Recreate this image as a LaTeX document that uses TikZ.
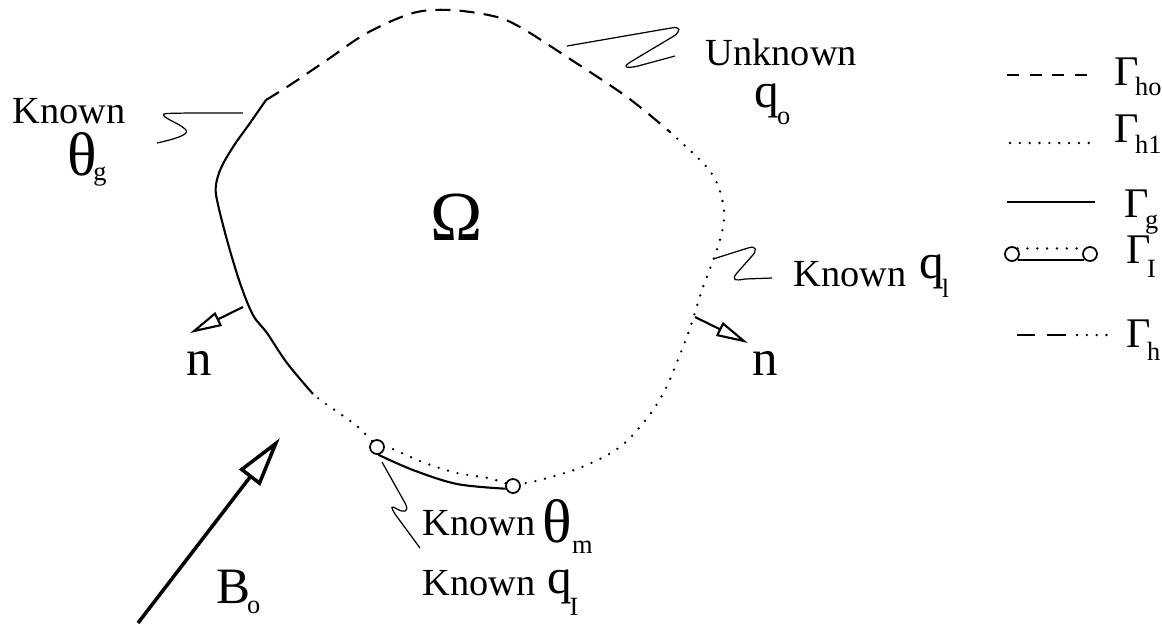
\documentclass[tikz,border=0pt]{standalone}
\usepackage{fontspec}
\setmainfont{Liberation Serif}
\usetikzlibrary{arrows.meta,positioning}

\newcommand{\symtext}[2]{{\fontsize{#1}{#1}\selectfont #2}}
\newcommand{\subsc}[3][0pt]{\kern#1\raisebox{-#2}{\fontsize{7.5}{7.5}\selectfont #3}}

\begin{document}
\begin{tikzpicture}[
    x=0.01cm, y=-0.01cm,
    gline/.style={line width=0.6pt},
    holine/.style={line width=0.6pt, dash pattern=on 4.3pt off 2.6pt},
    dotline/.style={line width=0.75pt, line cap=round, dash pattern=on 0pt off 2.8pt},
    legdash/.style={line width=0.6pt, dash pattern=on 3.4pt off 3.05pt},
    legdash long/.style={line width=0.6pt, dash pattern=on 5.2pt off 3.4pt},
    endpt/.style={circle, draw, line width=0.5pt, minimum size=1.4mm, inner sep=0pt},
    leader/.style={line width=0.35pt},
    normal/.style={-{Triangle[open,length=3.2mm,width=1.5mm]}, line width=0.6pt},
    field/.style={-{Triangle[open,length=5mm,width=2.6mm]}, line width=1pt},
    txt/.style={inner sep=0pt, anchor=base west, font=\fontsize{10.9}{12}\selectfont},
    sym/.style={inner sep=0pt, anchor=base west}
]
\useasboundingbox (0,0) rectangle (1162,623);

% boundary pieces
\coordinate (J1) at (266,100);
\coordinate (J2) at (670,132);
\coordinate (J3) at (313,394);
\node[endpt] (iL) at (377,447) {};
\node[endpt] (iR) at (513,486) {};

\draw[holine] plot[smooth, tension=0.55] coordinates {(J1) (290,85) (327,60) (367,33) (413,13) (450,10) (493,16) (520,27) (567,57) (627,97) (J2)};
\draw[dotline] plot[smooth, tension=0.55] coordinates {(J2) (703,163) (717,183) (724,210) (722,232) (714,258) (702,290) (690,328) (677,362) (665,390) (648,417) (620,447) (582,467) (540,480) (iR.15)};
\draw[dotline] plot[smooth, tension=0.55] coordinates {(iR.160) (488,478) (457,473) (425,463) (395,450) (iL.10)};
\draw[gline] plot[smooth, tension=0.55] coordinates {(iL.-80) (413,470) (457,484) (iR.200)};
\draw[dotline] plot[smooth, tension=0.55] coordinates {(iL.130) (358,427) (342,415) (323,402) (J3)};
\draw[gline] plot[smooth, tension=0.55] coordinates {(J3) (287,363) (267,333) (253,315) (240,283) (227,240) (217,200) (216,185) (221,168) (233,147) (250,123) (J1)};

\node[inner sep=0pt, anchor=base, font=\fontsize{20}{20}\selectfont] (omega) at (457,240) {Ω};

% normals and field
\coordinate (nLfoot) at (243,307);
\coordinate (nLtip) at (190,333);
\coordinate (nRfoot) at (695,317);
\coordinate (nRtip) at (748,343);
\coordinate (Bfoot) at (138,623);
\coordinate (Btip) at (280,438);
\draw[normal] (nLfoot) -- (nLtip);
\draw[normal] (nRfoot) -- (nRtip);
\draw[field] (Bfoot) -- (Btip);
\node[sym, font=\fontsize{14.5}{14.5}\selectfont] (nl) at (186,375) {n};
\node[sym, font=\fontsize{14.5}{14.5}\selectfont] (nr) at (752,375) {n};
\node[sym] (bo) at (216,603) {\symtext{14.5}{B}\subsc[-1pt]{1mm}{o}};

% labels
\node[txt] (kg) at (12,123) {Known};
\node[sym] (thg) at (67,175) {\symtext{17.5}{θ}\subsc[-1.1pt]{0.5mm}{g}};
\node[txt] (uq) at (705,65) {Unknown};
\node[sym] (qo) at (754,107) {\symtext{14}{q}\subsc[-0.6pt]{1.7mm}{o}};
\node[txt] (kl) at (793,286) {Known};
\node[sym] (ql) at (919,278) {\symtext{14}{q}\subsc[-0.7pt]{1.9mm}{l}};
\node[txt] (km) at (422,535) {Known};
\node[sym] (thm) at (542,542) {\symtext{17.5}{θ}\subsc{1.1mm}{m}};
\node[txt] (kI) at (422,595) {Known};
\node[sym] (qI) at (547,593) {\symtext{14}{q}\subsc[-0.8pt]{2.2mm}{I}};

% leaders
\coordinate (lgA) at (157,143);
\coordinate (lgB) at (243,113);
\coordinate (lqA) at (567,46);
\coordinate (lqB) at (675,56);
\coordinate (llA) at (713,259);
\coordinate (llB) at (772,278);
\coordinate (lmA) at (382,462);
\coordinate (lmB) at (420,548);
\draw[leader] (lgA) .. controls (175,139) and (192,134) .. (185,129) .. controls (179,123) and (160,117) .. (164,114) .. controls (167,113) and (180,113) .. (lgB);
\draw[leader] (lqA) -- (671,28) .. controls (681,26) and (681,31) .. (674,36) -- (632,61) .. controls (622,67) and (625,69) .. (638,66) -- (lqB);
\draw[leader] (llA) -- (748,248) .. controls (757,245) and (757,251) .. (752,256) -- (737,273) .. controls (731,280) and (735,281) .. (745,279) -- (llB);
\draw[leader] (lmA) -- (405,503) .. controls (410,512) and (404,513) .. (397,509) .. controls (390,505) and (391,507) .. (395,514) -- (lmB);

% legend
\draw[legdash] (1007,75) -- (1088,75);
\draw[dotline] (1010,143) -- (1095,143);
\draw[line width=0.75pt] (1007,202) -- (1095,202);
\node[endpt] (lgL) at (1012,254) {};
\node[endpt] (lgR) at (1090,254) {};
\draw[dotline] (lgL.north east) -- (lgR.north west);
\draw[gline] (lgL.-45) -- (lgR.-135);
\draw[legdash long] (1017,335) -- (1067,335);
\draw[dotline] (1077,335) -- (1108,335);
\node[sym] (lho) at (1114,85) {\symtext{12}{Γ}\subsc[-1.1pt]{1mm}{ho}};
\node[sym] (lh1) at (1114,142) {\symtext{12}{Γ}\subsc[-1.1pt]{1.1mm}{h1}};
\node[sym] (lg) at (1124,217) {\symtext{12}{Γ}\subsc[-1.1pt]{1.1mm}{g}};
\node[sym] (lI) at (1126,263) {\symtext{12}{Γ}\subsc[-1.1pt]{1.4mm}{I}};
\node[sym] (lh) at (1126,347) {\symtext{12}{Γ}\subsc[-1.1pt]{1.3mm}{h}};
\end{tikzpicture}
\end{document}
